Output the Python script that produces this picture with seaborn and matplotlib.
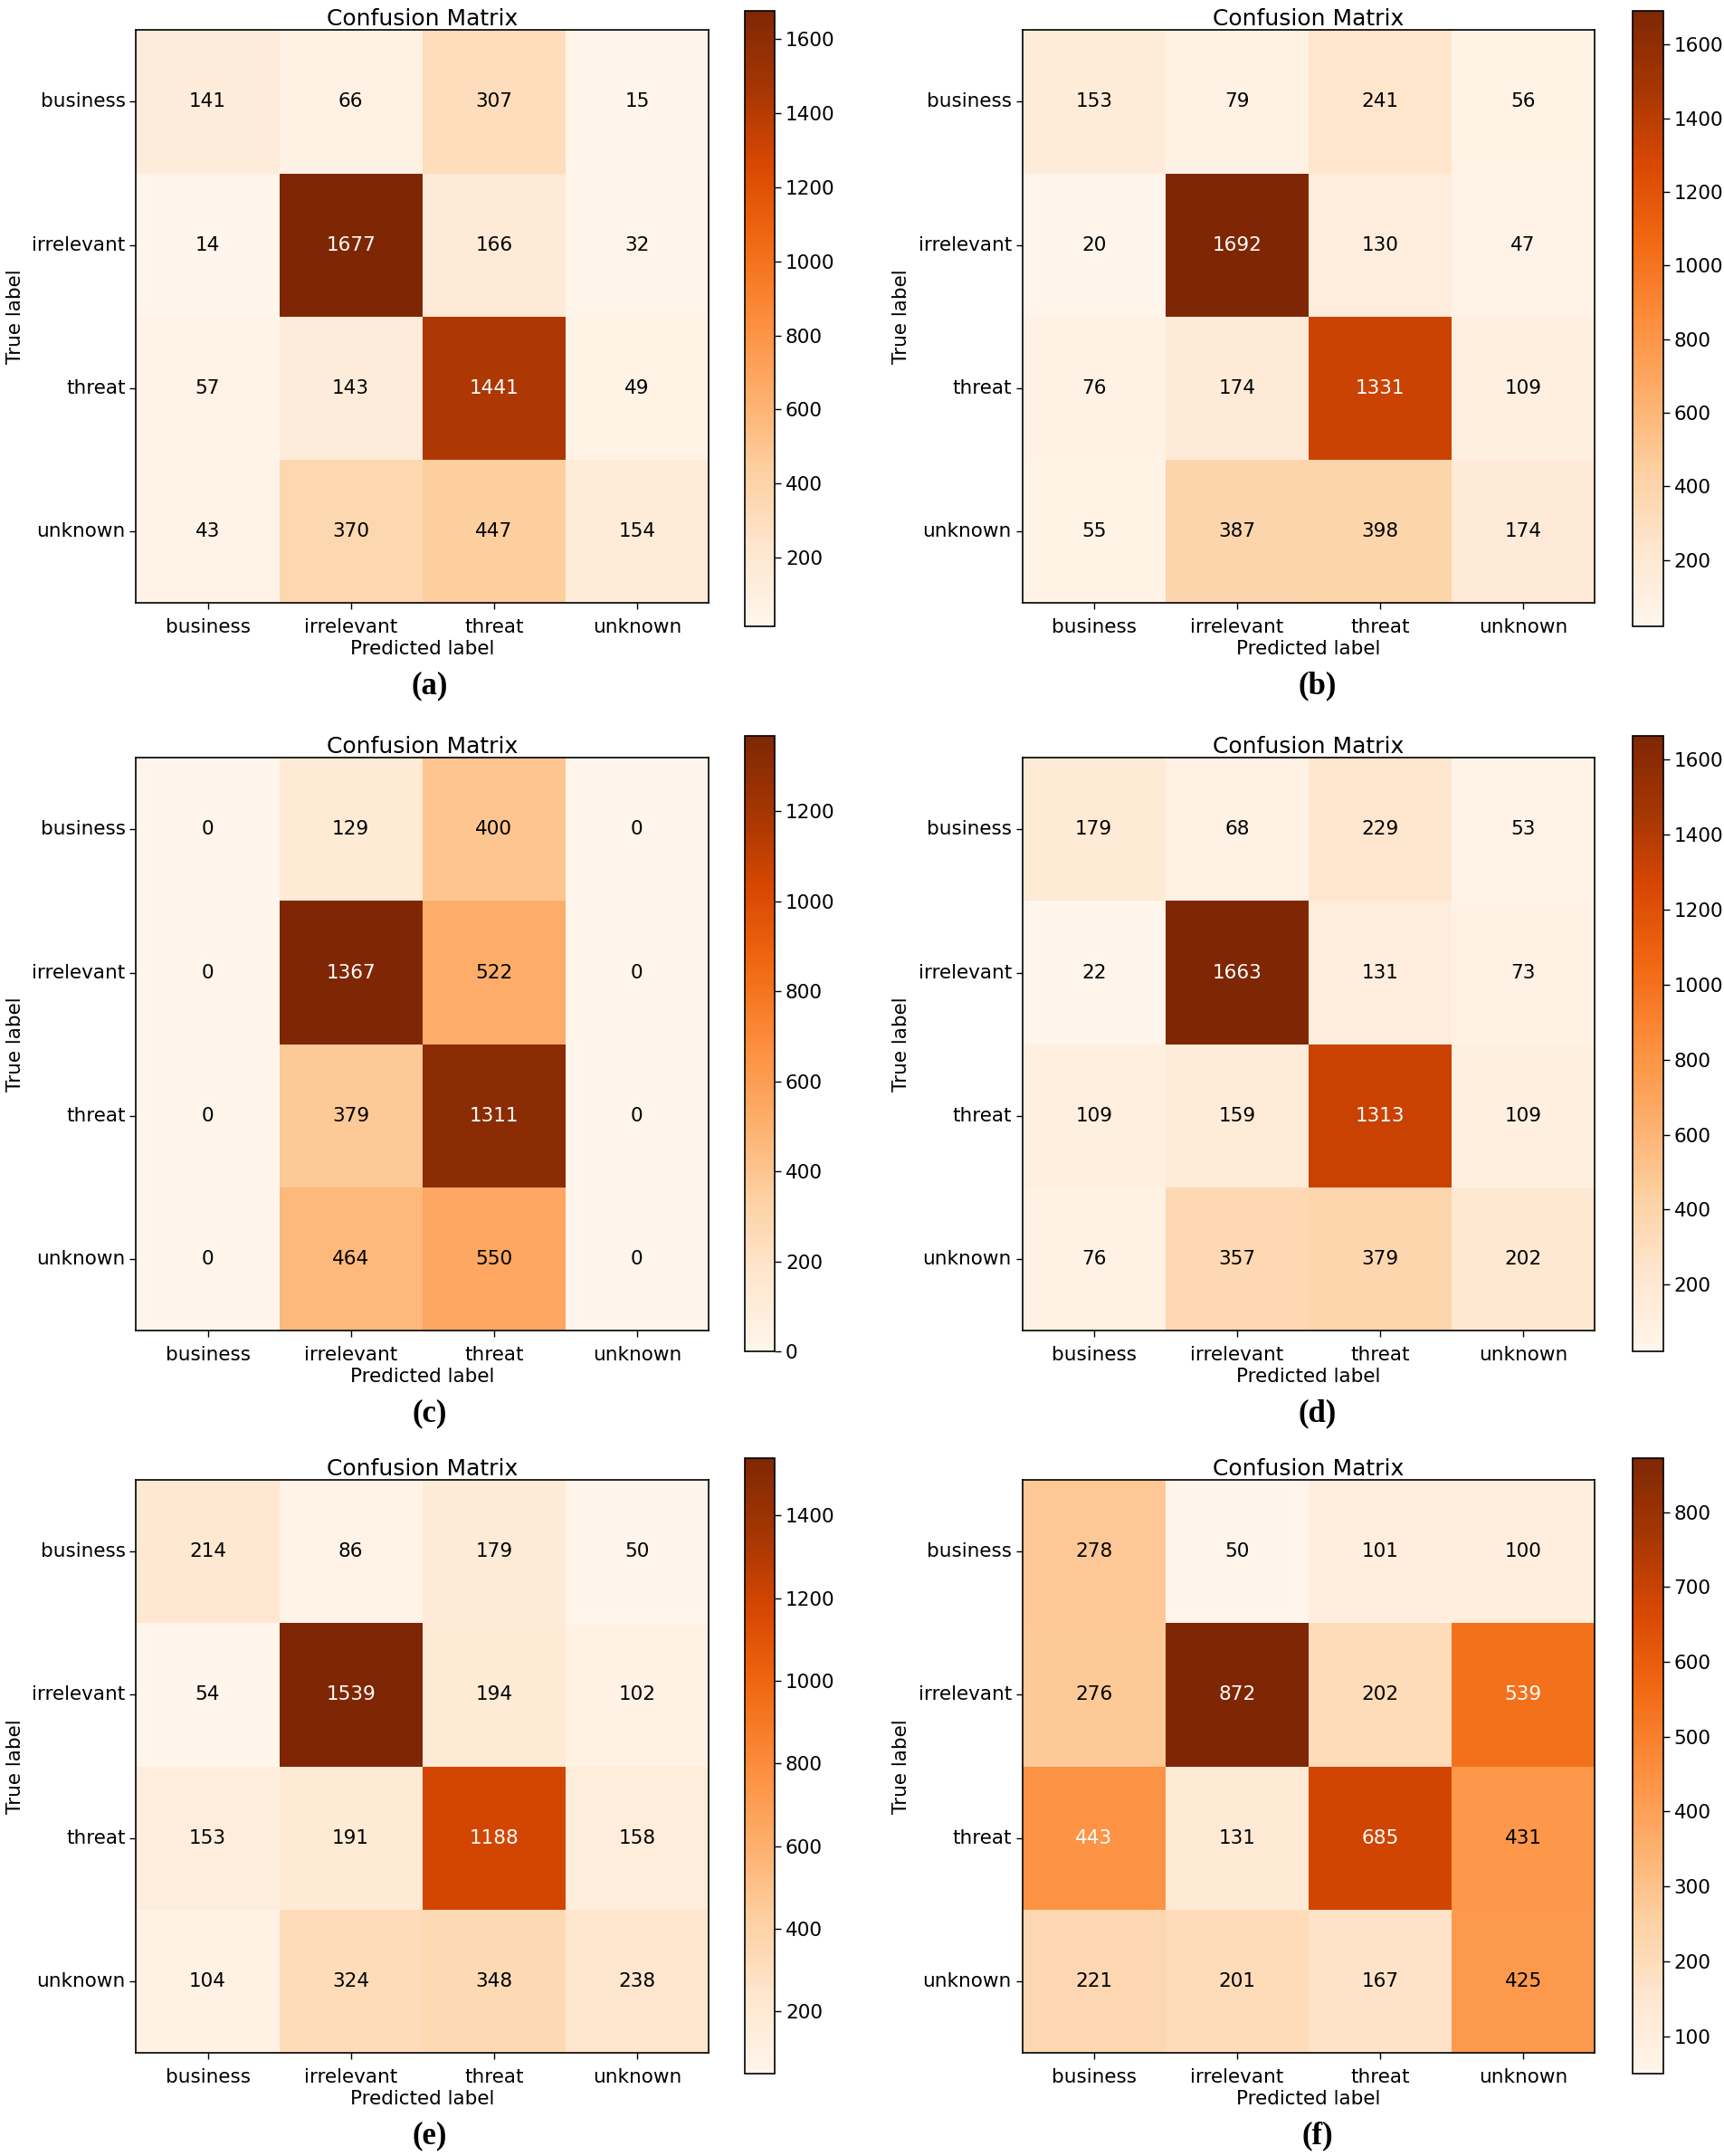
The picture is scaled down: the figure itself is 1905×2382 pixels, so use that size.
import numpy as np
import matplotlib
matplotlib.use("Agg")
import matplotlib.pyplot as plt
import seaborn as sns

# class names (rows = true, cols = predicted)
classes = ["business", "irrelevant", "threat", "unknown"]

cm_a = [[141, 66, 307, 15],
        [14, 1677, 166, 32],
        [57, 143, 1441, 49],
        [43, 370, 447, 154]]
cm_b = [[153, 79, 241, 56],
        [20, 1692, 130, 47],
        [76, 174, 1331, 109],
        [55, 387, 398, 174]]
cm_c = [[0, 129, 400, 0],
        [0, 1367, 522, 0],
        [0, 379, 1311, 0],
        [0, 464, 550, 0]]
cm_d = [[179, 68, 229, 53],
        [22, 1663, 131, 73],
        [109, 159, 1313, 109],
        [76, 357, 379, 202]]
cm_e = [[214, 86, 179, 50],
        [54, 1539, 194, 102],
        [153, 191, 1188, 158],
        [104, 324, 348, 238]]
cm_f = [[278, 50, 101, 100],
        [276, 872, 202, 539],
        [443, 131, 685, 431],
        [221, 201, 167, 425]]

panel_letters = ["(a)", "(b)", "(c)", "(d)", "(e)", "(f)"]
matrices = [cm_a, cm_b, cm_c, cm_d, cm_e, cm_f]

plt.rcParams['font.family'] = ['DejaVu Sans']

fig = plt.figure(figsize=(19.05, 23.82), dpi=100)

col_x = [0.0790, 0.5930]
cbar_x = [0.4318, 0.9472]
row_y = [0.7204, 0.3829, 0.0479]
cbar_y = [0.7095, 0.3732, 0.0382]
letter_x = [0.249, 0.764]
letter_y = [0.682, 0.3445, 0.0093]

for k, (cm, letter) in enumerate(zip(matrices, panel_letters)):
    r, c = divmod(k, 2)
    ax = fig.add_axes([col_x[c], row_y[r], 0.3320, 0.2656])
    cax = fig.add_axes([cbar_x[c], cbar_y[r], 0.0176, 0.2855])
    data = np.array(cm)
    sns.heatmap(data, ax=ax, cbar_ax=cax, cmap="Oranges", annot=True, fmt="d",
                annot_kws={"size": 15.5}, xticklabels=classes, yticklabels=classes)

    # text colour: light on dark cells
    thresh = data.max() / 2.0
    for t in ax.texts:
        val = int(t.get_text())
        t.set_color("white" if val > thresh else "black")

    for sp in ax.spines.values():
        sp.set_visible(True)
        sp.set_color("black")
        sp.set_linewidth(1.2)
    ax.tick_params(axis="both", labelsize=15.5, length=5, width=1)
    ax.tick_params(axis="x", pad=7)
    ax.set_yticklabels(classes, rotation=0)
    ax.set_xticklabels(classes, rotation=0)
    ax.set_title("Confusion Matrix", fontsize=18, pad=4)
    ax.set_xlabel("Predicted label", fontsize=15.5, labelpad=3)
    ax.set_ylabel("True label", fontsize=15.5, labelpad=6)

    cb = ax.collections[0].colorbar
    cb.outline.set_visible(True)
    cb.outline.set_linewidth(1.2)
    cb.outline.set_edgecolor("black")
    cax.tick_params(labelsize=15.5, length=5, width=1)

    fig.text(letter_x[c], letter_y[r], letter, ha="center", va="center",
             fontsize=25, fontweight="bold", family="Liberation Serif")

fig.savefig("out.png", dpi=100)
